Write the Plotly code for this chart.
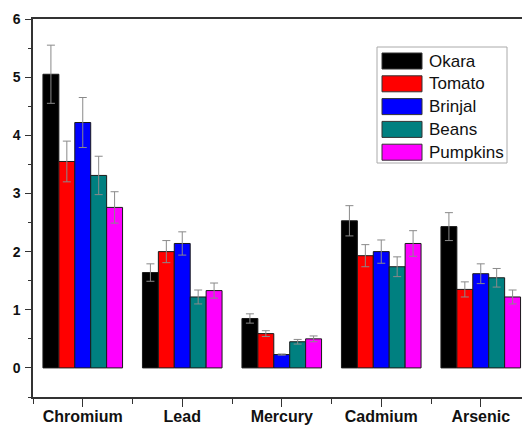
import plotly.graph_objects as go

categories = ["Chromium", "Lead", "Mercury", "Cadmium", "Arsenic"]
series_names = ["Okara", "Tomato", "Brinjal", "Beans", "Pumpkins"]
okara = [5.05, 1.64, 0.85, 2.53, 2.43]
okara_err = [0.50, 0.15, 0.08, 0.26, 0.24]
tomato = [3.55, 2.00, 0.59, 1.93, 1.35]
tomato_err = [0.35, 0.19, 0.05, 0.19, 0.13]
brinjal = [4.22, 2.14, 0.23, 2.00, 1.62]
brinjal_err = [0.43, 0.20, 0.01, 0.20, 0.17]
beans = [3.31, 1.22, 0.45, 1.74, 1.55]
beans_err = [0.33, 0.12, 0.04, 0.17, 0.16]
pumpkins = [2.76, 1.33, 0.50, 2.14, 1.22]
pumpkins_err = [0.27, 0.13, 0.05, 0.22, 0.12]
y_ticks = [0, 1, 2, 3, 4, 5, 6]

values = [okara, tomato, brinjal, beans, pumpkins]
errors = [okara_err, tomato_err, brinjal_err, beans_err, pumpkins_err]
colors = ["#000000", "#FF0000", "#0000FF", "#008080", "#FF00FF"]

FONT = "Arial, 'Liberation Sans', sans-serif"
W, H = 522, 425
ML, MR, MT, MB = 33, 0, 19, 28
PW, PH = W - ML - MR, H - MT - MB

fig = go.Figure()
xs = list(range(len(categories)))
for name, v, e, c in zip(series_names, values, errors, colors):
    fig.add_trace(go.Bar(
        x=xs, y=v, name=name,
        marker=dict(color=c, line=dict(color="#1a1a1a", width=1)),
        error_y=dict(type="data", array=e, visible=True, color="#8a8a8a", thickness=1, width=4),
        showlegend=False,
    ))

fig.update_layout(
    width=W, height=H,
    margin=dict(l=ML, r=MR, t=MT, b=MB),
    barmode="group", bargap=0.2, bargroupgap=0,
    plot_bgcolor="white", paper_bgcolor="white",
    font=dict(family=FONT, color="#111111"),
)
fig.update_xaxes(
    range=[-0.5, -0.5 + PW / 99.5],
    tickmode="array", tickvals=xs, ticktext=categories,
    tickfont=dict(size=16, family=FONT, weight="bold"),
    ticks="outside", ticklen=8, tickwidth=1, tickcolor="#333333",
    ticklabelstandoff=-4,
    minor=dict(tickmode="linear", tick0=-0.5, dtick=1, ticks="outside", ticklen=5, tickcolor="#333333"),
    showline=True, linecolor="#333333", linewidth=1.5, mirror=True,
    showgrid=False, zeroline=False,
)
fig.update_yaxes(
    range=[-0.5, 6],
    tickmode="array", tickvals=y_ticks,
    tickfont=dict(size=14, family=FONT, weight="bold"),
    ticks="outside", ticklen=6, tickwidth=1, tickcolor="#333333",
    ticklabelstandoff=2,
    minor=dict(tickmode="linear", tick0=0.5, dtick=1, ticks="outside", ticklen=3, tickcolor="#333333"),
    showline=True, linecolor="#333333", linewidth=1.5,
    showgrid=False, zeroline=False,
)

# custom legend (paper coordinates derived from pixel layout)
def px_x(p):
    return (p - ML) / PW

def px_y(p):
    return (H - MB - p) / PH

shapes = [dict(type="rect", xref="paper", yref="paper",
               x0=px_x(377), x1=px_x(507), y0=px_y(163), y1=px_y(47),
               line=dict(color="#aaaaaa", width=1), fillcolor="white", layer="above")]
annotations = []
for i, (name, c) in enumerate(zip(series_names, colors)):
    cy = 61 + i * 22.8
    shapes.append(dict(type="rect", xref="paper", yref="paper",
                       x0=px_x(382), x1=px_x(422), y0=px_y(cy + 8), y1=px_y(cy - 8),
                       fillcolor=c, line=dict(color="#333333", width=1), layer="above"))
    annotations.append(dict(xref="paper", yref="paper", x=px_x(427), y=px_y(cy),
                            xanchor="left", yanchor="middle", showarrow=False,
                            text=name, font=dict(size=17, family=FONT, color="#111111")))
fig.update_layout(shapes=shapes, annotations=annotations)

fig.write_html("out.html", config={"displayModeBar": False},
               post_script="document.body.style.margin='0';document.body.style.overflow='hidden';")
